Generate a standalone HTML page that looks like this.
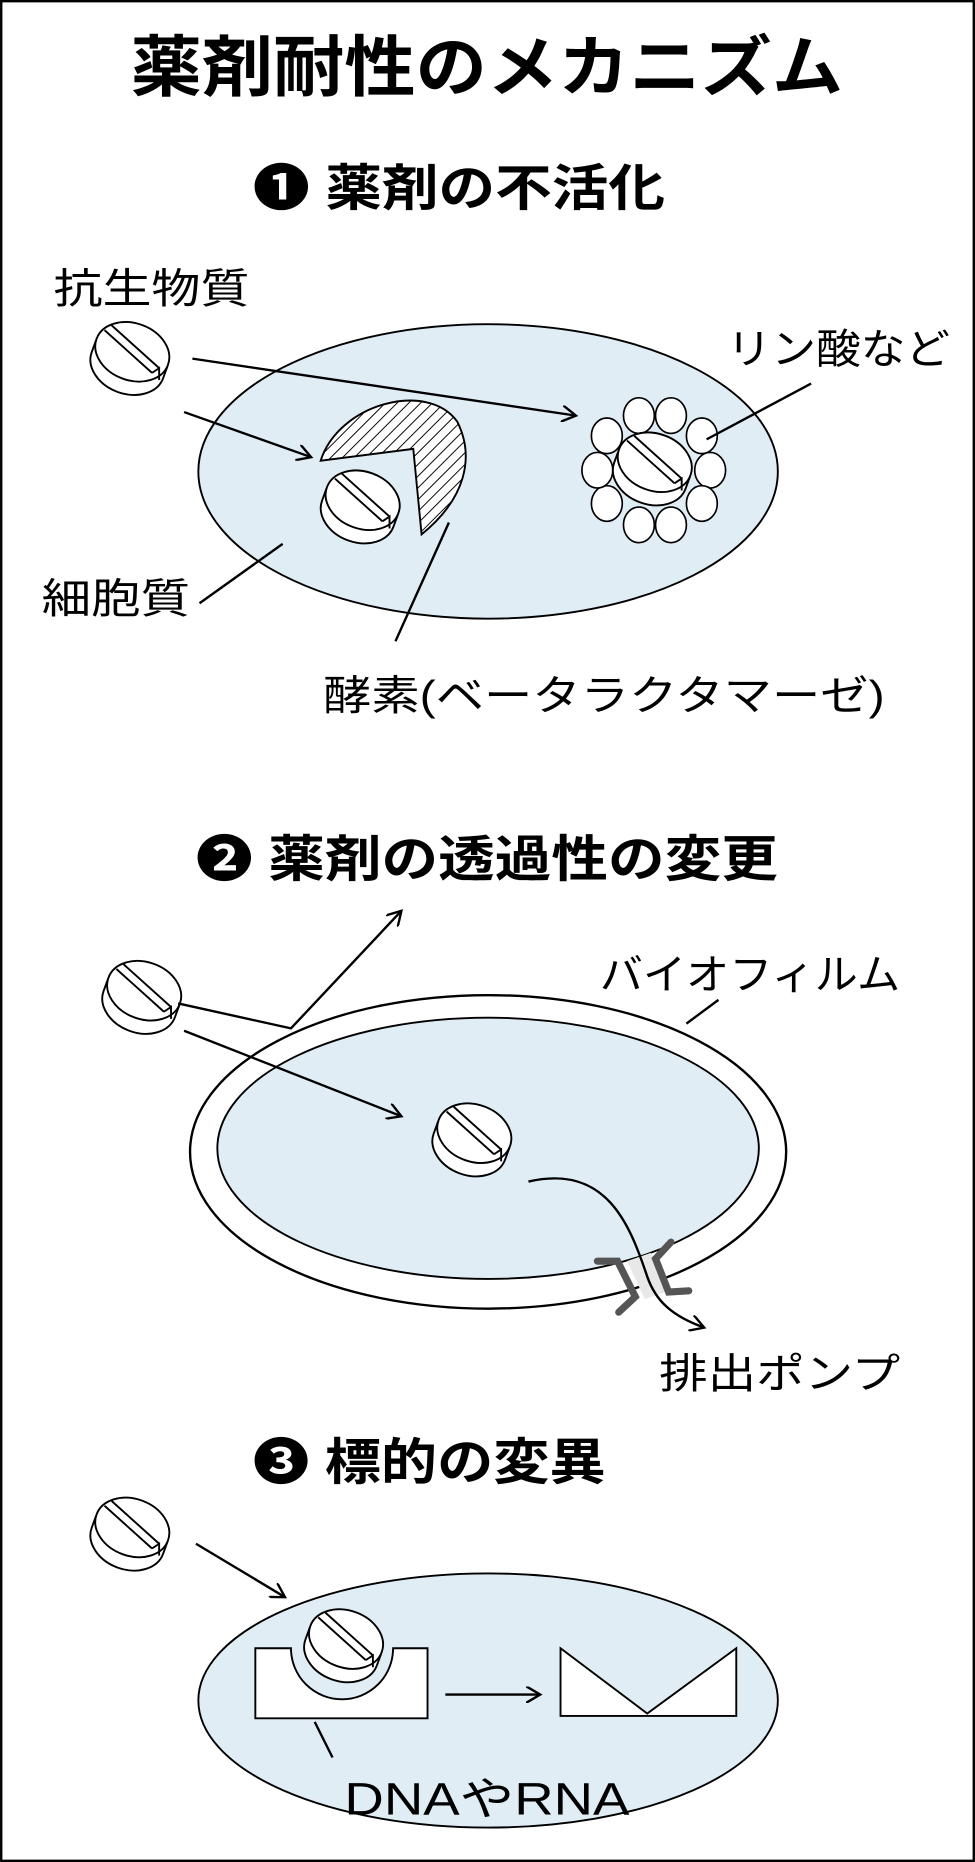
<!DOCTYPE html>
<html><head><meta charset="utf-8"><style>
html,body{margin:0;padding:0;background:#fff}
svg{display:block}
text{font-family:"Liberation Sans","Noto Sans CJK JP",sans-serif;fill:#000}
</style></head><body>
<svg width="975" height="1862" viewBox="0 0 821 1568" xmlns="http://www.w3.org/2000/svg">
<defs>
<pattern id="h" width="7" height="7" patternUnits="userSpaceOnUse" patternTransform="rotate(45)">
<rect width="7" height="7" fill="#fff"/><line x1="0" y1="0" x2="0" y2="7" stroke="#000" stroke-width="1.6"/></pattern>
<g id="pill">
<path d="M-32,-2 L-32,8 A32,24 0 0 0 32,8 L32,-2 Z" fill="#fff" stroke="#000" stroke-width="1.6" transform="rotate(20)"/>
<ellipse cx="0" cy="-4" rx="32" ry="24" fill="#fff" stroke="#000" stroke-width="1.6" transform="rotate(20)"/>
<path d="M-22,-22 L18,14 M-16,-26 L24,10 M18,14 L24,10 L24,20" fill="none" stroke="#000" stroke-width="1.6"/>
</g>
<marker id="a" markerWidth="14" markerHeight="14" refX="12" refY="7" orient="auto" markerUnits="userSpaceOnUse">
<path d="M0,0 L12,7 L0,14" fill="none" stroke="#000" stroke-width="2"/></marker>
</defs>
<rect x="1" y="1" width="819" height="1566" fill="#fff" stroke="#000" stroke-width="2"/>
<text x="110" y="76" font-size="56" font-weight="bold" textLength="600" lengthAdjust="spacingAndGlyphs">薬剤耐性のメカニズム</text>

<text x="213" y="173" font-size="42" font-weight="bold" textLength="347" lengthAdjust="spacingAndGlyphs">❶ 薬剤の不活化</text>
<text x="45" y="255" font-size="35" textLength="165" lengthAdjust="spacingAndGlyphs">抗生物質</text>
<ellipse cx="411" cy="397" rx="244" ry="124" fill="#e0edf5" stroke="#000" stroke-width="1.6"/>
<use href="#pill" x="110" y="300"/>
<line x1="162" y1="302" x2="485" y2="350" stroke="#000" stroke-width="2" marker-end="url(#a)"/>
<line x1="155" y1="347" x2="262" y2="385" stroke="#000" stroke-width="2" marker-end="url(#a)"/>
<path d="M270,388 C285,340 360,320 385,355 C400,385 392,420 355,450 L348,378 Z" fill="url(#h)" stroke="#000" stroke-width="1.6"/>
<use href="#pill" x="304" y="425"/>
<g fill="#fff" stroke="#000" stroke-width="1.4">
<ellipse cx="538" cy="350" rx="13" ry="15"/><ellipse cx="565" cy="350" rx="13" ry="15"/>
<ellipse cx="591" cy="367" rx="13" ry="15"/><ellipse cx="598" cy="396" rx="13" ry="15"/>
<ellipse cx="591" cy="424" rx="13" ry="15"/><ellipse cx="565" cy="442" rx="13" ry="15"/>
<ellipse cx="538" cy="442" rx="13" ry="15"/><ellipse cx="511" cy="424" rx="13" ry="15"/>
<ellipse cx="503" cy="396" rx="13" ry="15"/><ellipse cx="511" cy="367" rx="13" ry="15"/>
</g>
<use href="#pill" x="550" y="393"/>
<text x="612" y="306" font-size="35" textLength="188" lengthAdjust="spacingAndGlyphs">リン酸など</text>
<line x1="595" y1="370" x2="683" y2="323" stroke="#000" stroke-width="2"/>
<text x="35" y="516" font-size="35" textLength="125" lengthAdjust="spacingAndGlyphs">細胞質</text>
<line x1="168" y1="508" x2="238" y2="458" stroke="#000" stroke-width="2"/>
<text x="272" y="598" font-size="35" textLength="473" lengthAdjust="spacingAndGlyphs">酵素(ベータラクタマーゼ)</text>
<line x1="333" y1="540" x2="378" y2="440" stroke="#000" stroke-width="2"/>

<text x="165" y="738" font-size="42" font-weight="bold" textLength="490" lengthAdjust="spacingAndGlyphs">❷ 薬剤の透過性の変更</text>
<ellipse cx="411" cy="970" rx="251" ry="132" fill="#fff" stroke="#000" stroke-width="2"/>
<ellipse cx="411" cy="967" rx="228" ry="110" fill="#e0edf5" stroke="#000" stroke-width="1.6"/>
<use href="#pill" x="120" y="838"/>
<polyline points="150,845 245,866 338,767" fill="none" stroke="#000" stroke-width="2" marker-end="url(#a)"/>
<line x1="155" y1="868" x2="338" y2="940" stroke="#000" stroke-width="2" marker-end="url(#a)"/>
<text x="505" y="833" font-size="35" textLength="253" lengthAdjust="spacingAndGlyphs">バイオフィルム</text>
<line x1="578" y1="862" x2="605" y2="842" stroke="#000" stroke-width="2"/>
<use href="#pill" x="398" y="958"/>
<polygon points="528,1062 548,1055 563,1087 543,1094" fill="#e8e8e8"/>
<path d="M445,995 C510,980 530,1030 545,1075 C552,1095 565,1108 593,1118" fill="none" stroke="#000" stroke-width="2" marker-end="url(#a)"/>
<g fill="none" stroke="#555" stroke-width="6" stroke-linecap="round">
<polyline points="503,1062 520,1062 535,1092 521,1105"/>
<polyline points="565,1046 552,1060 563,1088 580,1087"/>
</g>
<text x="555" y="1169" font-size="35" textLength="203" lengthAdjust="spacingAndGlyphs">排出ポンプ</text>

<text x="213" y="1246" font-size="42" font-weight="bold" textLength="297" lengthAdjust="spacingAndGlyphs">❸ 標的の変異</text>
<ellipse cx="411" cy="1432" rx="244" ry="107" fill="#e0edf5" stroke="#000" stroke-width="1.6"/>
<use href="#pill" x="110" y="1290"/>
<line x1="165" y1="1300" x2="240" y2="1345" stroke="#000" stroke-width="2" marker-end="url(#a)"/>
<path d="M215,1388 L245,1388 A43,43 0 0 0 331,1388 L360,1388 L360,1447 L215,1447 Z" fill="#fff" stroke="#000" stroke-width="1.6"/>
<use href="#pill" x="290" y="1384"/>
<line x1="375" y1="1427" x2="455" y2="1427" stroke="#000" stroke-width="2" marker-end="url(#a)"/>
<path d="M472,1388 L545,1443 L620,1388 L620,1445 L472,1445 Z" fill="#fff" stroke="#000" stroke-width="1.6"/>
<line x1="265" y1="1450" x2="280" y2="1480" stroke="#000" stroke-width="2"/>
<text x="290" y="1528" font-size="38" textLength="240" lengthAdjust="spacingAndGlyphs">DNAやRNA</text>
</svg>
</body></html>
